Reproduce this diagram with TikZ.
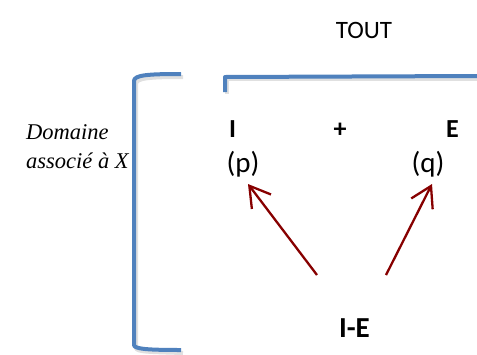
\documentclass[tikz,border=0pt]{standalone}
\usepackage{fontspec}
\setmainfont{Carlito}
\newfontfamily\timesit{Liberation Serif}
\usetikzlibrary{arrows.meta}
\definecolor{brblue}{RGB}{79,129,189}
\definecolor{arrred}{RGB}{135,0,0}
\tikzset{
  lbl/.style={inner sep=0pt, font=\fontsize{25}{27}\selectfont},
  blbl/.style={inner sep=0pt, font=\fontsize{26}{28}\selectfont\bfseries},
  brack/.style={draw=brblue, line width=4pt, line cap=butt, line join=round},
  shade/.style={draw=black!12, line width=4pt, line join=round},
  arr/.style={draw=arrred, line width=2.3pt, -{Straight Barb[length=20pt,width=24pt,line width=2.3pt]}}
}
\begin{document}
\begin{tikzpicture}[x=1pt,y=-1pt]
\useasboundingbox (0,0) rectangle (477,354);
% shadows
\draw[shade] (227,94) -- (227,79) -- (477,79);
\draw[shade] (183,77) .. controls (150,77) and (136,78) .. (136,84) -- (136,348) .. controls (136,352) and (150,352) .. (183,353);
% brackets
\draw[brack] (225,92) -- (225,77) -- (477,76);
\draw[brack] (181,74) .. controls (148,74) and (134,75) .. (134,81) -- (134,345) .. controls (134,349) and (148,350) .. (181,350);
% texts
\node[lbl] (tout) at (364,30) {TOUT};
\node[blbl] (I) at (232.5,129) {I};
\node[blbl] (plus) at (340,130) {+};
\node[blbl] (E) at (452.5,129) {E};
\node[lbl, font=\fontsize{29}{31}\selectfont] (p) at (243,164) {(p)};
\node[lbl, font=\fontsize{29}{31}\selectfont] (q) at (428,164) {(q)};
\node[blbl, font=\fontsize{29}{31}\selectfont\bfseries] (IE) at (354.5,328) {I-E};
\node[inner sep=0pt, font=\timesit\itshape\fontsize{22.5}{29}\selectfont, align=left, anchor=west] (dom) at (26,147) {Domaine\\associé à X};
% arrows
\coordinate (t1) at (317,275);
\coordinate (h1) at (248,184);
\coordinate (t2) at (386,275);
\coordinate (h2) at (432,184);
\draw[arr] (t1) -- (h1);
\draw[arr] (t2) -- (h2);
\end{tikzpicture}
\end{document}
